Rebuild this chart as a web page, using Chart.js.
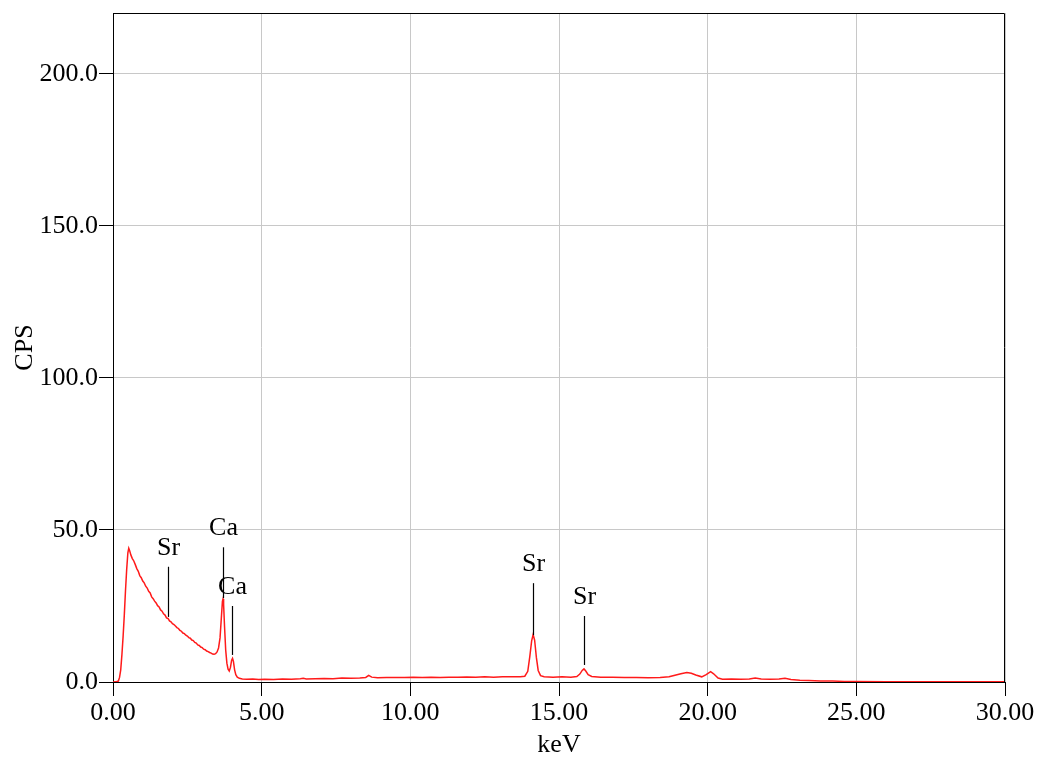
<!DOCTYPE html>
<html>
<head>
<meta charset="utf-8">
<script src="https://cdn.jsdelivr.net/npm/chart.js@4"></script>
<style>
html,body{margin:0;padding:0;background:#fff;}
#wrap{width:1041px;height:759px;}
</style>
</head>
<body>
<div id="wrap"><canvas id="c" width="1041" height="759"></canvas></div>
<script>
// ---- data ----
const energyKeV = [
0.00,0.10,0.18,0.22,0.26,0.30,0.34,0.38,0.42,0.46,0.50,0.53,0.56,0.60,0.65,0.70,0.75,0.80,0.85,0.90,
0.95,1.00,1.05,1.10,1.15,1.20,1.25,1.30,1.35,1.40,1.45,1.50,1.55,1.60,1.65,1.70,1.75,1.80,1.85,1.90,
1.95,2.00,2.05,2.10,2.15,2.20,2.25,2.30,2.35,2.40,2.45,2.50,2.55,2.60,2.65,2.70,2.75,2.80,2.85,2.90,
2.95,3.00,3.05,3.10,3.15,3.20,3.25,3.30,3.35,3.40,3.45,3.50,3.55,3.60,3.64,3.68,3.70,3.72,3.75,3.79,
3.83,3.87,3.91,3.95,3.99,4.02,4.05,4.09,4.13,4.18,4.25,4.35,4.50,4.70,4.90,5.10,5.40,5.70,6.00,6.30,
6.40,6.50,6.80,7.10,7.40,7.70,8.00,8.30,8.50,8.60,8.70,8.90,9.20,9.50,9.80,10.10,10.40,10.70,11.00,11.30,
11.60,11.90,12.20,12.50,12.80,13.10,13.40,13.70,13.85,13.95,14.02,14.08,14.13,14.18,14.24,14.30,14.38,14.50,14.80,15.10,
15.40,15.60,15.70,15.78,15.84,15.90,15.98,16.10,16.40,16.80,17.20,17.60,18.00,18.40,18.70,18.90,19.10,19.30,19.45,19.60,
19.80,19.95,20.10,20.20,20.35,20.50,20.80,21.10,21.40,21.60,21.80,22.10,22.40,22.60,22.80,23.10,23.40,23.80,24.20,24.60,
25.00,26.00,27.00,28.00,29.00,30.00
];
const cps = [
0.00,0.05,0.3,1.5,4,9,15,22,30,37,42.5,44.0,43.2,41.8,40.6,39.8,38.6,37.3,36.4,35.0,
34.3,33.2,32.6,31.5,30.9,29.8,29.3,28.0,27.4,26.6,26.0,25.1,24.7,23.7,23.3,22.4,22.0,21.1,20.9,20.1,
19.8,19.2,18.9,18.4,17.9,17.6,17.0,16.7,16.1,15.9,15.4,15.1,14.6,14.4,13.8,13.6,13.0,12.8,12.2,12.0,
11.5,11.3,10.8,10.6,10.2,10.0,9.7,9.5,9.2,9.1,9.3,9.9,11.2,14.5,20.5,26.5,27.3,25.5,18.5,10.5,
6.2,4.2,3.6,4.8,7.2,7.8,6.8,4.0,2.4,1.6,1.2,1.0,0.9,0.95,0.8,0.9,0.85,0.95,0.9,1.1,
1.25,1.0,1.05,1.15,1.1,1.3,1.25,1.35,1.5,2.2,1.6,1.4,1.5,1.45,1.5,1.55,1.5,1.6,1.5,1.6,
1.55,1.65,1.6,1.7,1.6,1.7,1.75,1.7,1.9,3.5,8.5,13.5,15.6,13.8,8.0,3.8,2.1,1.7,1.6,1.7,
1.6,1.8,2.6,3.8,4.3,3.6,2.4,1.8,1.6,1.55,1.5,1.45,1.4,1.5,1.7,2.2,2.7,3.1,2.9,2.3,
1.7,2.4,3.4,2.7,1.3,0.9,0.95,0.9,1.0,1.3,1.0,0.9,0.95,1.25,0.8,0.6,0.5,0.35,0.3,0.2,
0.15,0.1,0.1,0.1,0.1,0.1
];
const xTickValues = [0, 5, 10, 15, 20, 25, 30];
const yTickValues = [0, 50, 100, 150, 200];
// peak annotations: label, energy, top and bottom of the marker line (CPS)
const peakLabels = ['Sr', 'Ca', 'Ca', 'Sr', 'Sr'];
const peakKeV = [1.84, 3.71, 4.01, 14.14, 15.83];
const peakLineTop = [37.9, 44.3, 25.0, 32.5, 21.7];
const peakLineBottom = [21.4, 27.6, 8.9, 15.4, 5.6];

const FONT = 'Liberation Serif, Times New Roman, serif';
const points = energyKeV.map((x, i) => ({x: x, y: cps[i]}));

const framePlugin = {
  id: 'frame',
  afterDraw(chart) {
    const {ctx, chartArea: a} = chart;
    ctx.save();
    ctx.strokeStyle = '#000';
    ctx.lineWidth = 1;
    ctx.beginPath();
    ctx.moveTo(Math.round(a.left) + 0.5, Math.round(a.top) + 0.5);
    ctx.lineTo(Math.round(a.right) - 0.5, Math.round(a.top) + 0.5);
    ctx.lineTo(Math.round(a.right) - 0.5, Math.round(a.bottom));
    ctx.stroke();
    ctx.restore();
  }
};

const peakPlugin = {
  id: 'peaks',
  afterDatasetsDraw(chart) {
    const {ctx, scales: {x, y}} = chart;
    ctx.save();
    ctx.strokeStyle = '#000';
    ctx.lineWidth = 1.2;
    ctx.fillStyle = '#000';
    ctx.font = '26px ' + FONT;
    ctx.textAlign = 'center';
    ctx.textBaseline = 'alphabetic';
    peakLabels.forEach((lab, i) => {
      const px = Math.round(x.getPixelForValue(peakKeV[i])) + 0.5;
      const yt = y.getPixelForValue(peakLineTop[i]);
      const yb = y.getPixelForValue(peakLineBottom[i]);
      ctx.beginPath();
      ctx.moveTo(px, yt);
      ctx.lineTo(px, yb);
      ctx.stroke();
      ctx.fillText(lab, px, yt - 12);
    });
    ctx.restore();
  }
};

new Chart(document.getElementById('c'), {
  type: 'line',
  data: {
    datasets: [{
      data: points,
      borderColor: '#ff1a1a',
      borderWidth: 1.5,
      pointRadius: 0,
      tension: 0,
      fill: false
    }]
  },
  options: {
    responsive: false,
    animation: false,
    devicePixelRatio: 1,
    layout: {padding: {top: 13, right: 36, left: 0, bottom: 0}},
    plugins: {legend: {display: false}, tooltip: {enabled: false}},
    scales: {
      x: {
        type: 'linear',
        min: 0, max: 30,
        afterBuildTicks: s => { s.ticks = xTickValues.map(v => ({value: v})); },
        afterFit: s => { s.height = 77; s.paddingLeft = 0; s.paddingRight = 0; },
        grid: {color: '#c8c8c8', lineWidth: 1, tickLength: 14, tickColor: '#000', drawTicks: true},
        border: {color: '#000', width: 1},
        ticks: {
          color: '#000', padding: 2, maxRotation: 0, autoSkip: false,
          font: {family: FONT, size: 26},
          callback: v => Number(v).toFixed(2)
        },
        title: {display: true, text: 'keV', color: '#000', font: {family: FONT, size: 26, lineHeight: 1}, padding: {top: 0, bottom: 1}}
      },
      y: {
        type: 'linear',
        min: 0, max: 220,
        afterBuildTicks: s => { s.ticks = yTickValues.map(v => ({value: v})); },
        afterFit: s => { s.width = 113; s.paddingTop = 0; s.paddingBottom = 0; },
        grid: {color: '#c8c8c8', lineWidth: 1, tickLength: 14, tickColor: '#000', drawTicks: true},
        border: {color: '#000', width: 1},
        ticks: {
          color: '#000', padding: 1, autoSkip: false,
          font: {family: FONT, size: 26},
          callback: v => Number(v).toFixed(1)
        },
        title: {display: true, text: 'CPS', color: '#000', font: {family: FONT, size: 26, lineHeight: 1}, padding: {top: 12, bottom: 0}}
      }
    }
  },
  plugins: [framePlugin, peakPlugin]
});
</script>
</body>
</html>
